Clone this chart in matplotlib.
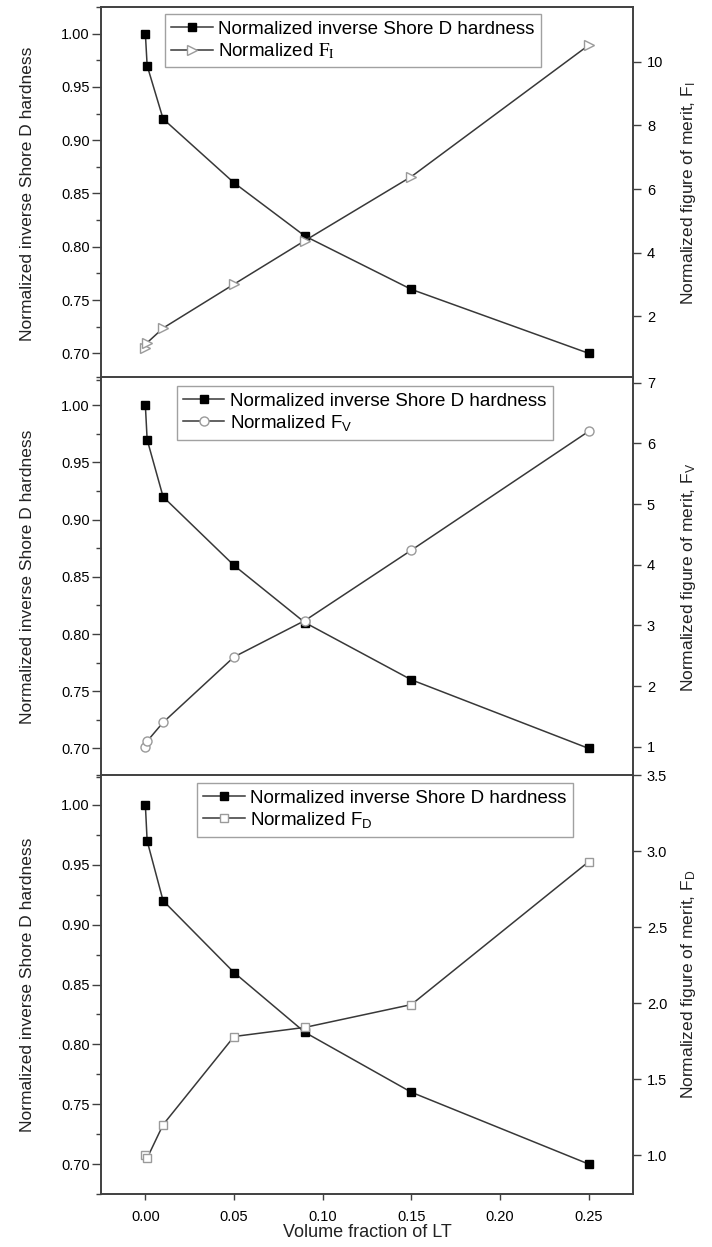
import numpy as np
import matplotlib
matplotlib.use('Agg')
from matplotlib import pyplot as plt
from matplotlib.ticker import MultipleLocator

plt.rcParams['font.family'] = ['Liberation Sans', 'DejaVu Sans']
plt.rcParams['mathtext.fontset'] = 'stix'

# data
vol_frac = [0.0, 0.001, 0.01, 0.05, 0.09, 0.15, 0.25]
hardness = [1.00, 0.97, 0.92, 0.86, 0.81, 0.76, 0.70]
f_i = [1.00, 1.17, 1.63, 3.01, 4.38, 6.39, 10.52]
f_v = [1.00, 1.09, 1.40, 2.48, 3.08, 4.24, 6.20]
f_d = [1.00, 0.98, 1.20, 1.78, 1.84, 1.99, 2.93]

hard_label = 'Normalized inverse Shore D hardness'
fom_labels = [r'Normalized $\mathrm{F_I}$',
              r'Normalized $\mathregular{F_V}$',
              r'Normalized $\mathregular{F_D}$']
right_labels = [r'Normalized figure of merit, $\mathregular{F_I}$',
                r'Normalized figure of merit, $\mathregular{F_V}$',
                r'Normalized figure of merit, $\mathregular{F_D}$']

line_col = '#383838'
spine_col = '#404040'

fig = plt.figure(figsize=(7.12, 12.47), dpi=100)

# panel boxes (figure fractions), panels slightly overlap like the original
boxes = [[0.1419, 0.6953, 0.7472, 0.2991],
         [0.1419, 0.3769, 0.7472, 0.3210],
         [0.1419, 0.0425, 0.7472, 0.3360]]
series = [f_i, f_v, f_d]
markers = ['>', 'o', 's']
msizes = [6.5, 6.5, 5.5]
right_lims = [(0, 11.72), (0.5, 7.1), (0.744, 3.5001)]
right_ticks = [[2, 4, 6, 8, 10], [1, 2, 3, 4, 5, 6, 7], [1.0, 1.5, 2.0, 2.5, 3.0, 3.5]]
leg_anchor = [(0.12, 0.981), (0.142, 0.977), (0.18, 0.981)]

for i in range(3):
    ax = fig.add_axes(boxes[i])
    ax.set_facecolor('white')
    l1, = ax.plot(vol_frac, hardness, '-s', color=line_col, lw=1.1,
                  mfc='black', mec='black', ms=5.5)
    ax2 = ax.twinx()
    l2, = ax2.plot(vol_frac, series[i], '-', marker=markers[i], color=line_col, lw=1.1,
                   mfc='white', mec='#9a9a9a', mew=1.0, ms=msizes[i])

    ax.set_xlim(-0.025, 0.275)
    ax.set_ylim(0.675, 1.025)
    ax.yaxis.set_major_locator(MultipleLocator(0.05))
    ax.yaxis.set_minor_locator(MultipleLocator(0.025))
    ax2.set_ylim(*right_lims[i])
    ax2.set_yticks(right_ticks[i])

    for a in (ax, ax2):
        for s in a.spines.values():
            s.set_color(spine_col)
            s.set_linewidth(1.2)

    ax.tick_params(axis='y', which='major', direction='out', length=6.5, width=1.0,
                   color=spine_col, labelsize=10.5, pad=1.5)
    ax.tick_params(axis='y', which='minor', direction='out', length=3.5, width=1.0,
                   color=spine_col)
    ax2.tick_params(axis='y', direction='out', length=6, width=1.0,
                    color=spine_col, labelsize=10.5, pad=4)

    if i < 2:
        ax.tick_params(axis='x', bottom=False, labelbottom=False)
    else:
        ax.xaxis.set_major_locator(MultipleLocator(0.05))
        ax.tick_params(axis='x', direction='out', length=4.5, width=1.0,
                       color=spine_col, labelsize=10.5, pad=7)
        ax.set_xlabel('Volume fraction of LT', fontsize=13, labelpad=0, color='#222222')

    ax.set_ylabel(hard_label, fontsize=12.5, color='#222222')
    ax.yaxis.set_label_coords(-0.124, 0.5)
    ax2.set_ylabel(right_labels[i], fontsize=12.5, color='#222222')
    ax2.yaxis.set_label_coords(1.087, 0.5)

    leg = ax2.legend([l1, l2], [hard_label, fom_labels[i]], loc='upper left',
                     bbox_to_anchor=leg_anchor[i], borderaxespad=0, fontsize=13.5,
                     frameon=True, fancybox=False, handlelength=2.2, handletextpad=0.3,
                     labelspacing=0.18, borderpad=0.35)
    leg.get_frame().set_edgecolor('#8a8a8a')
    leg.get_frame().set_linewidth(1.0)

fig.savefig('out.png', dpi=100)
